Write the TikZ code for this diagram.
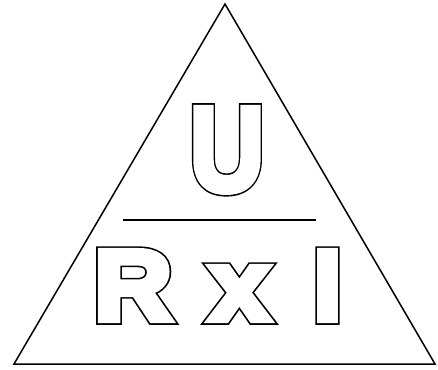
\documentclass[tikz,border=0pt]{standalone}
\usepackage{fontspec}
\setmainfont{Liberation Sans}
\tikzset{
  edge/.style={line width=1.5pt, line join=miter},
  bar/.style={line width=2pt},
  outl/.style={inner sep=0pt, outer sep=0pt, anchor=base, font=\bfseries, transform shape}
}
\newcommand{\hollowtext}[1]{\rlap{\special{pdf:literal direct 2 Tr 9.6 w 0 j 4 M}#1}\textcolor{white}{\special{pdf:literal direct 2 Tr 6.4 w}#1}\special{pdf:literal direct 0 Tr 1 w}}
\begin{document}
\begin{tikzpicture}[x=1pt,y=1pt]
\useasboundingbox (0,0) rectangle (438,369);
\coordinate (apex) at (225,365);
\coordinate (bl) at (14,5);
\coordinate (br) at (435,5);
\draw[edge] (apex) -- (br) -- (bl) -- cycle;
\coordinate (la) at (123,149);
\coordinate (lb) at (316,149);
\draw[bar] (la) -- (lb);
\node[outl, xscale=0.857] (u) at (227,178.4) {\fontsize{120}{120}\selectfont\hollowtext{U}};
\node[outl, xscale=1.08] (r) at (133,49) {\fontsize{100}{100}\selectfont\hollowtext{R}};
\node[outl, xscale=1.08] (x) at (239.5,49) {\fontsize{100}{100}\selectfont\hollowtext{x}};
\node[outl] (i) at (327.5,49) {\fontsize{100}{100}\selectfont\hollowtext{I}};
\end{tikzpicture}
\end{document}
